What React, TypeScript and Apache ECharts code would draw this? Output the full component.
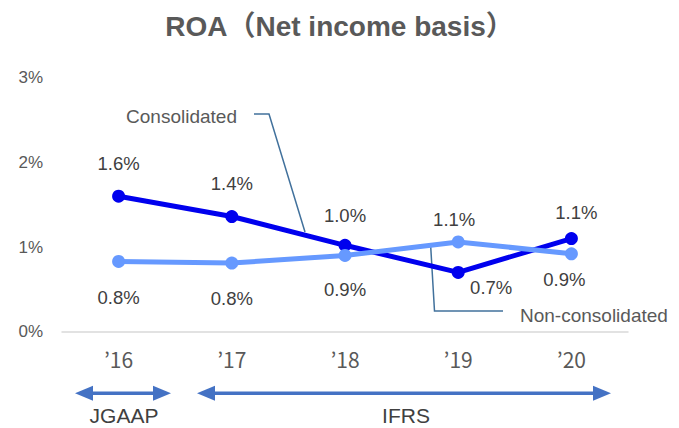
import React, { useEffect, useRef } from "react";
import * as echarts from "echarts";

const title = "ROA（Net income basis）";
const categories = ["’16", "’17", "’18", "’19", "’20"];
const consolidated = [1.6, 1.36, 1.02, 0.7, 1.1];
const nonConsolidated = [0.83, 0.81, 0.9, 1.06, 0.92];
const yTicks = { min: 0, max: 3, interval: 1 };
const seriesNames = ["Consolidated", "Non-consolidated"];
const standards = ["JGAAP", "IFRS"];

// label offsets (style), relative to each point
const consOffsets: [number, number][] = [[0, -33], [0, -33], [0, -30], [33, 15], [5, -26]];
const nonOffsets: [number, number][] = [[0, 36], [0, 35], [0, 34], [-4, -22], [-7, 26]];

const LATIN = "'Liberation Sans', 'Noto Sans CJK JP', sans-serif";
const ARROW = "#4472C4";
const CALLOUT = "#41719C";

function arrow(x1: number, x2: number, y: number) {
  const hl = 18, hh = 7.5;
  return [
    { type: "line", shape: { x1: x1 + hl - 2, y1: y, x2: x2 - hl + 2, y2: y }, style: { stroke: ARROW, lineWidth: 3.5 } },
    { type: "polygon", shape: { points: [[x1, y], [x1 + hl, y - hh], [x1 + hl, y + hh]] }, style: { fill: ARROW } },
    { type: "polygon", shape: { points: [[x2, y], [x2 - hl, y - hh], [x2 - hl, y + hh]] }, style: { fill: ARROW } },
  ];
}

export default function App() {
  const ref = useRef<HTMLDivElement>(null);
  useEffect(() => {
    if (!ref.current) return;
    const chart = echarts.init(ref.current, null, { renderer: "svg" });
    const mk = (vals: number[], offs: [number, number][]) =>
      vals.map((v, i) => ({ value: v, label: { offset: offs[i] } }));
    const labelStyle = {
      show: true,
      position: "inside",
      formatter: (p: any) => `${Number(p.value).toFixed(1)}%`,
      fontFamily: LATIN,
      fontSize: 18.5,
      color: "#404040",
    };
    chart.setOption({
      animation: false,
      backgroundColor: "#ffffff",
      title: {
        text: title,
        left: "center",
        top: 7,
        textStyle: { fontFamily: LATIN, fontSize: 28, fontWeight: "bold", color: "#595959" },
      },
      grid: { left: 62, right: 51, top: 77.6, bottom: 96.3 },
      xAxis: {
        type: "category",
        data: categories,
        boundaryGap: true,
        axisLine: { lineStyle: { color: "#D9D9D9", width: 1.5 } },
        axisTick: { show: false },
        axisLabel: { fontFamily: "'Noto Sans CJK JP', sans-serif", fontSize: 21, color: "#595959", margin: 17 },
      },
      yAxis: {
        type: "value",
        min: yTicks.min,
        max: yTicks.max,
        interval: yTicks.interval,
        axisLine: { show: false },
        axisTick: { show: false },
        splitLine: { show: false },
        axisLabel: { formatter: "{value}%", fontFamily: LATIN, fontSize: 17, color: "#595959", margin: 19 },
      },
      series: [
        {
          name: seriesNames[0],
          type: "line",
          data: mk(consolidated, consOffsets),
          symbol: "circle",
          symbolSize: 13,
          lineStyle: { color: "#0000EE", width: 5 },
          itemStyle: { color: "#0000EE" },
          label: labelStyle,
        },
        {
          name: seriesNames[1],
          type: "line",
          data: mk(nonConsolidated, nonOffsets),
          symbol: "circle",
          symbolSize: 13,
          lineStyle: { color: "#6699FF", width: 5 },
          itemStyle: { color: "#6699FF" },
          label: labelStyle,
        },
      ],
      graphic: [
        { type: "polyline", shape: { points: [[254, 114], [269, 114], [305, 232]] }, style: { stroke: CALLOUT, lineWidth: 1.5, fill: null } },
        { type: "text", x: 237, y: 116, style: { text: seriesNames[0], fontFamily: LATIN, fontSize: 19, fill: "#595959", align: "right", verticalAlign: "middle" } },
        { type: "polyline", shape: { points: [[430.5, 243], [434.5, 311], [503, 311]] }, style: { stroke: CALLOUT, lineWidth: 1.5, fill: null } },
        { type: "text", x: 520, y: 315, style: { text: seriesNames[1], fontFamily: LATIN, fontSize: 19, fill: "#595959", align: "left", verticalAlign: "middle" } },
        ...arrow(75, 171, 393.3),
        ...arrow(197, 611, 393.3),
        { type: "text", x: 124, y: 415, style: { text: standards[0], fontFamily: LATIN, fontSize: 21, fill: "#404040", align: "center", verticalAlign: "middle" } },
        { type: "text", x: 406, y: 415, style: { text: standards[1], fontFamily: LATIN, fontSize: 21, fill: "#404040", align: "center", verticalAlign: "middle" } },
      ],
    });
    return () => chart.dispose();
  }, []);
  return <div ref={ref} style={{ position: "fixed", left: 0, top: 0, width: 679, height: 428 }} />;
}
